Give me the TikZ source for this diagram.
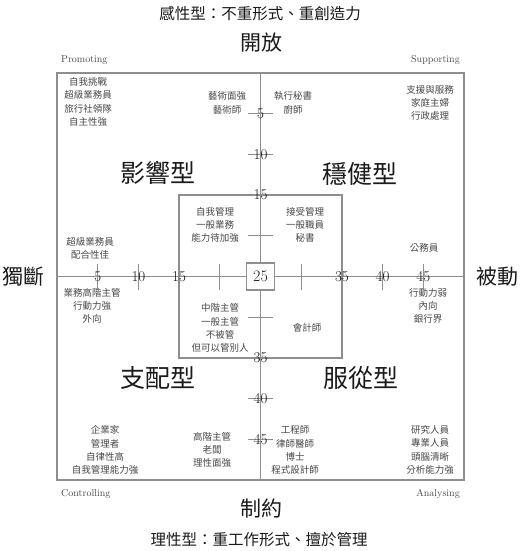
\documentclass[tikz,border=0pt]{standalone}
\usepackage{fontspec}
\usepackage{tikz}
\usetikzlibrary{positioning}
\newfontfamily\cjk{Noto Sans CJK TC}
\definecolor{rule}{HTML}{8E8E8E}
\definecolor{ink}{HTML}{1A1A1A}
\definecolor{note}{HTML}{474747}
\tikzset{
  frame/.style={draw=rule, line width=1.6pt, inner sep=0pt},
  axis/.style={draw=rule, line width=1.6pt},
  tickmark/.style={draw=rule, line width=1.1pt},
  num/.style={inner sep=0pt, text=ink, font=\fontsize{15}{15}\selectfont},
  midbox/.style={draw=rule, line width=1.1pt, fill=white, inner sep=0pt, minimum width=28pt, minimum height=27pt, text=ink, font=\fontsize{16}{16}\selectfont},
  note/.style={inner sep=0pt, align=center, text=note, font=\cjk\fontsize{9.5}{13.2}\selectfont},
  kind/.style={inner sep=0pt, text=ink, font=\cjk\fontsize{25}{25}\selectfont},
  pole/.style={inner sep=0pt, text=ink, font=\cjk\fontsize{21}{21}\selectfont},
  motto/.style={inner sep=0pt, text=ink, font=\cjk\fontsize{15.5}{16}\selectfont},
  corner/.style={inner sep=0pt, text=note, font=\fontsize{10}{10}\selectfont},
}

\begin{document}
\begin{tikzpicture}[x=1pt,y=-1pt]
  \useasboundingbox (0,0) rectangle (520,551);
  % frame, inner square and axes
  \node[frame,minimum width=407pt,minimum height=407pt](outer) at (260.5,276.5){};
  \node[frame,line width=1.2pt,minimum width=163pt,minimum height=163pt](inner) at (260.5,276.5){};
  \draw[axis] (outer.north) -- (outer.south);
  \draw[axis] (outer.west) -- (outer.east);
  % scale marks
  \foreach \v in {5,10,15,20,30,35,40,45}{
    \draw[tickmark] (57+\v*8.14,263.5) -- (57+\v*8.14,290);
    \draw[tickmark] (248,73+\v*8.14) -- (273,73+\v*8.14);
  }
  \foreach \v in {5,10,15,35,40,45}{
    \node[num](hx\v) at (57+\v*8.14,276.5){\v};
    \node[num](vy\v) at (260.5,73+\v*8.14){\v};
  }
  \node[midbox](mid) at (260.5,276.5){25};
  % headings
  \node[motto](emo) at (260,14){感性型：不重形式、重創造力};
  \node[pole](open) at (261,43){開放};
  \node[pole](bound) at (261,508){制約};
  \node[motto](ratio) at (259,540){理性型：重工作形式、擅於管理};
  \node[pole](assert) at (23,277){獨斷};
  \node[pole](passive) at (497,277){被動};
  \node[corner,anchor=west](prom) at (61,60){Promoting};
  \node[corner,anchor=east](supp) at (460,60){Supporting};
  \node[corner,anchor=west](ctrl) at (61,494){Controlling};
  \node[corner,anchor=east](anal) at (460,494){Analysing};
  % quadrant names
  \node[kind](infl) at (158,173){影響型};
  \node[kind](stead) at (360,174){穩健型};
  \node[kind](domi) at (158,378){支配型};
  \node[kind](comp) at (361,378){服從型};
  % upper left
  \node[note](tla) at (88,102){自我挑戰\\超級業務員\\旅行社領隊\\自主性強};
  \node[note](tlb) at (227,103){藝術面強\\藝術師};
  \node[note](lma) at (90,248){超級業務員\\配合性佳};
  \node[note](itl) at (215,225){自我管理\\一般業務\\能力待加強};
  % upper right
  \node[note](tra) at (293,103){執行秘書\\廚師};
  \node[note](trb) at (430,103){支援與服務\\家庭主婦\\行政處理};
  \node[note](rma) at (424,248){公務員};
  \node[note](itr) at (305,225){接受管理\\一般職員\\秘書};
  % lower left
  \node[note](lmb) at (92,306){業務高階主管\\行動力強\\外向};
  \node[note](ibl) at (220,328){中階主管\\一般主管\\不被管\\但可以管別人};
  \node[note](bla) at (105,450){企業家\\管理者\\自律性高\\自我管理能力強};
  \node[note](blb) at (212,450){高階主管\\老闆\\理性面強};
  % lower right
  \node[note](rmb) at (428,306){行動力弱\\內向\\銀行界};
  \node[note](ibr) at (307,328){會計師};
  \node[note](bra) at (295,450){工程師\\律師醫師\\博士\\程式設計師};
  \node[note](brb) at (430,450){研究人員\\專業人員\\頭腦清晰\\分析能力強};
\end{tikzpicture}
\end{document}
